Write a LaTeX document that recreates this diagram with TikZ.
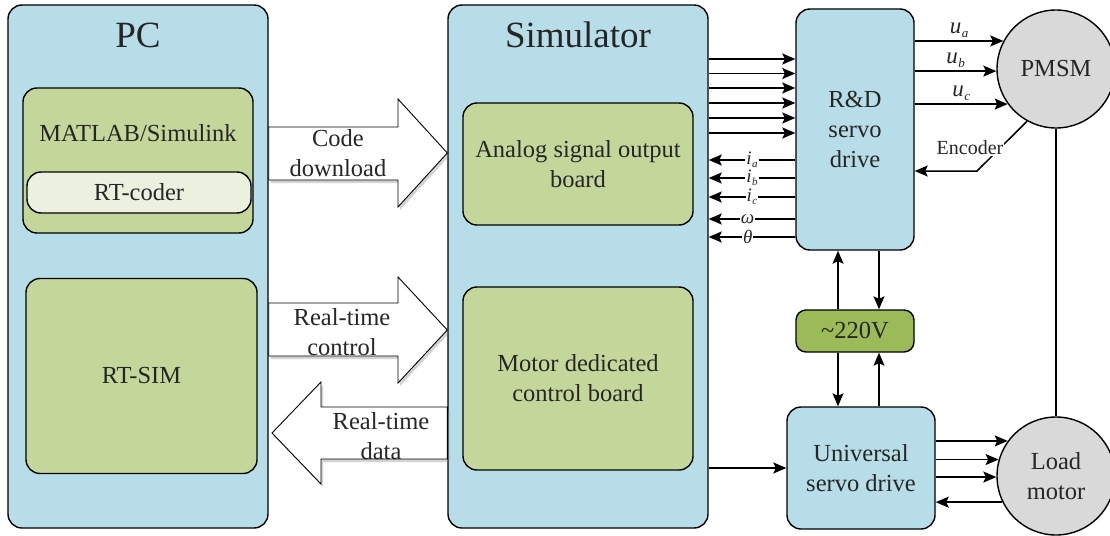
\documentclass[tikz,border=0pt]{standalone}
\usepackage{fontspec}
\setmainfont{Liberation Serif}
\usetikzlibrary{arrows.meta,shadows,calc}
\definecolor{blu}{HTML}{B7DDE8}
\definecolor{grn}{HTML}{C4D79B}
\definecolor{lgrn}{HTML}{EBF1DE}
\definecolor{dgrn}{HTML}{9BBB59}
\definecolor{gry}{HTML}{D9D9D9}
\newcommand\fsz{\fontsize{24.5}{30}\selectfont}
\newcommand\fbig{\fontsize{37}{40}\selectfont}
\newcommand\fsml{\fontsize{20}{24}\selectfont}
\newcommand\fmth{\fontsize{23}{26}\selectfont}
\newcommand\fsig{\fontsize{19}{19}\selectfont}
\newcommand\vsub[2]{\textit{#1}\kern0.5pt\raisebox{-4pt}{\fontsize{13}{13}\selectfont\textit{#2}}}
\newcommand\isub[1]{\textit{i}\kern0.5pt\raisebox{-3pt}{\fontsize{11}{11}\selectfont\textit{#1}}}
\begin{document}
\begin{tikzpicture}[x=1pt,y=-1pt,
  box/.style={draw, line width=1.4pt, rounded corners=14pt, inner sep=0pt, align=center, font=\fsz, text=black!85},
  mot/.style={draw, line width=1.4pt, circle, fill=gry, inner sep=0pt, minimum size=118pt, align=center, font=\fsz, text=black!85},
  arr/.style={line width=1.5pt, -{Stealth[length=13pt,width=11pt,inset=2.5pt]}},
  bigarrow/.style={draw, line width=0.9pt, fill=white, drop shadow={shadow xshift=2pt, shadow yshift=-3pt, opacity=0.35}},
  lbl/.style={font=\fsz, align=center, text=black!85},
  sig/.style={fill=white, inner xsep=1pt, inner ysep=0pt, font=\fsig, text=black!85}
]
\useasboundingbox (0,0) rectangle (1110,535);

% main boxes
\node[box, fill=blu, minimum width=260pt, minimum height=523pt] (pc) at (138,266.5) {};
\node[box, fill=blu, minimum width=260pt, minimum height=523pt] (sim) at (578,266.5) {};
\node[font=\fbig, text=black!85] (pct) at (138,35) {PC};
\node[font=\fbig, text=black!85] (simt) at (578,35) {Simulator};

\node[box, fill=grn, minimum width=230pt, minimum height=145pt] (mat) at (138,160.5) {};
\node[lbl] (matt) at (138,133) {MATLAB/Simulink};
\node[box, fill=lgrn, minimum width=224pt, minimum height=41pt] (rtc) at (139,192.5) {\raisebox{-2pt}{RT-coder}};
\node[box, fill=grn, minimum width=231pt, minimum height=195pt] (rtsim) at (141.5,376) {RT-SIM};

\node[box, fill=grn, minimum width=230pt, minimum height=122pt] (ana) at (578,164) {Analog signal output\\board};
\node[box, fill=grn, minimum width=230pt, minimum height=183pt] (motb) at (578,378.5) {\raisebox{-6pt}{\parbox{220pt}{\centering Motor dedicated\\control board}}};

\node[box, fill=blu, minimum width=118pt, minimum height=241pt] (rd) at (855,129.5) {R\&D\\servo\\drive};
\node[box, fill=dgrn, rounded corners=10pt, minimum width=118pt, minimum height=42pt] (v220) at (855,331) {\textasciitilde220V};
\node[box, fill=blu, minimum width=148pt, minimum height=122pt] (uni) at (861,468) {Universal\\servo drive};

\node[mot] (pmsm) at (1056,69) {PMSM};
\node[mot] (load) at (1056,476) {Load\\motor};

% big arrows
\path[bigarrow] (pc.east |- 0,127) -- (398,127) -- (398,99) -- (sim.west |- 0,153) -- (398,207) -- (398,180) -- (pc.east |- 0,180) -- cycle;
\node[lbl] (cdl) at (338,153) {Code\\download};
\path[bigarrow] (pc.east |- 0,303) -- (398,303) -- (398,277) -- (sim.west |- 0,330) -- (398,383) -- (398,356) -- (pc.east |- 0,356) -- cycle;
\node[lbl] (rtcl) at (342,332) {Real-time\\control};
\path[bigarrow] (sim.west |- 0,407) -- (321,407) -- (321,382) -- (272,433) -- (321,484) -- (321,459) -- (sim.west |- 0,459) -- cycle;
\node[lbl] (rtdl) at (381,436) {Real-time\\data};

% simulator -> R&D
\foreach \yy in {59,73.5,88,103,118,133}
  \draw[arr] (sim.east |- 0,\yy) -- (rd.west |- 0,\yy);
% R&D -> simulator
\draw[arr] (rd.west |- 0,160) -- node[sig, pos=0.5] {\isub{a}} (sim.east |- 0,160);
\draw[arr] (rd.west |- 0,178) -- node[sig, pos=0.5] {\isub{b}} (sim.east |- 0,178);
\draw[arr] (rd.west |- 0,197) -- node[sig, pos=0.5] {\isub{c}} (sim.east |- 0,197);
\draw[arr] (rd.west |- 0,219) -- node[sig, pos=0.55] {\textit{ω}} (sim.east |- 0,219);
\draw[arr] (rd.west |- 0,237) -- node[sig, pos=0.55] {\textit{θ}} (sim.east |- 0,237);

% R&D -> PMSM
\draw[arr] (rd.east |- pmsm.152.8) -- node[above, font=\fmth, text=black!85, inner sep=3pt] {\vsub{u}{a}} (pmsm.152.8);
\draw[arr] (rd.east |- pmsm.182) -- node[above, font=\fmth, text=black!85, inner sep=3pt] {\vsub{u}{b}} (pmsm.182);
\draw[arr] (rd.east |- pmsm.216.4) -- node[above, font=\fmth, text=black!85, inner sep=3pt] {\vsub{u}{c}} (pmsm.216.4);

% encoder
\coordinate (encb) at (977,171);
\draw[arr] (pmsm.241.8) -- (encb) -- (rd.east |- encb);
\node[fill=white, inner sep=1pt, font=\fsml, text=black!85] (enc) at (970,148) {Encoder};

% power
\draw[arr] (v220.north -| 838,0) -- (rd.south -| 838,0);
\draw[arr] (rd.south -| 879,0) -- (v220.north -| 879,0);
\draw[arr] (v220.south -| 838,0) -- (uni.north -| 838,0);
\draw[arr] (uni.north -| 879,0) -- (v220.south -| 879,0);

% simulator -> universal
\draw[arr] (sim.east |- uni.west) -- (uni.west);

% universal <-> load
\draw[arr] (uni.east |- load.144.8) -- (load.144.8);
\draw[arr] (uni.east |- load.164.3) -- (load.164.3);
\draw[arr] (uni.east |- load.181) -- (load.181);
\draw[arr] (load.206) -- (uni.east |- load.206);

% shaft
\draw[line width=1.4pt] (pmsm.south) -- (load.north);
\end{tikzpicture}
\end{document}
